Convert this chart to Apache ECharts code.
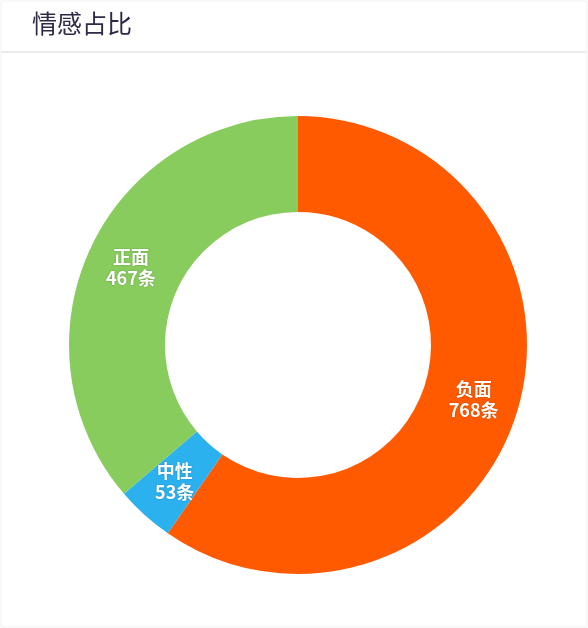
<!DOCTYPE html>
<html>
<head>
<meta charset="utf-8">
<script src="https://cdn.jsdelivr.net/npm/echarts@6/dist/echarts.min.js"></script>
<style>
  html, body { margin: 0; padding: 0; background: #fff; }
  #main { width: 588px; height: 628px; }
</style>
</head>
<body>
<div id="main"></div>
<script>
const categories = ['负面', '中性', '正面'];
const counts = [768, 53, 467];
const colors = ['#ff5a00', '#2cb1ef', '#88cc5e'];

const chart = echarts.init(document.getElementById('main'));

const option = {
  backgroundColor: '#fff',
  title: {
    text: '情感占比',
    left: 27,
    top: 6,
    textStyle: {
      fontFamily: 'Noto Sans CJK SC',
      fontSize: 25,
      fontWeight: 'normal',
      color: '#2e2a48'
    }
  },
  graphic: [
    {
      type: 'rect',
      shape: { x: 1, y: 1, width: 586, height: 626 },
      style: { fill: 'none', stroke: '#f2f2f4', lineWidth: 1 }
    },
    {
      type: 'line',
      shape: { x1: 1, y1: 52, x2: 587, y2: 52 },
      style: { stroke: '#ececf0', lineWidth: 2 }
    }
  ],
  series: [
    {
      type: 'pie',
      center: [298, 345],
      radius: [133, 229],
      startAngle: 90,
      clockwise: true,
      avoidLabelOverlap: false,
      label: {
        show: true,
        position: 'inside',
        formatter: p => p.name + '\n' + p.value + '条',
        color: '#fff',
        fontFamily: 'Noto Sans CJK SC',
        fontSize: 18,
        fontWeight: 'bold',
        lineHeight: 21,
        textShadowColor: 'rgba(0,0,0,0.25)',
        textShadowBlur: 2
      },
      labelLine: { show: false },
      emphasis: { scale: false },
      data: categories.map((name, i) => ({
        name: name,
        value: counts[i],
        itemStyle: { color: colors[i] }
      }))
    }
  ]
};

chart.setOption(option);
</script>
</body>
</html>
